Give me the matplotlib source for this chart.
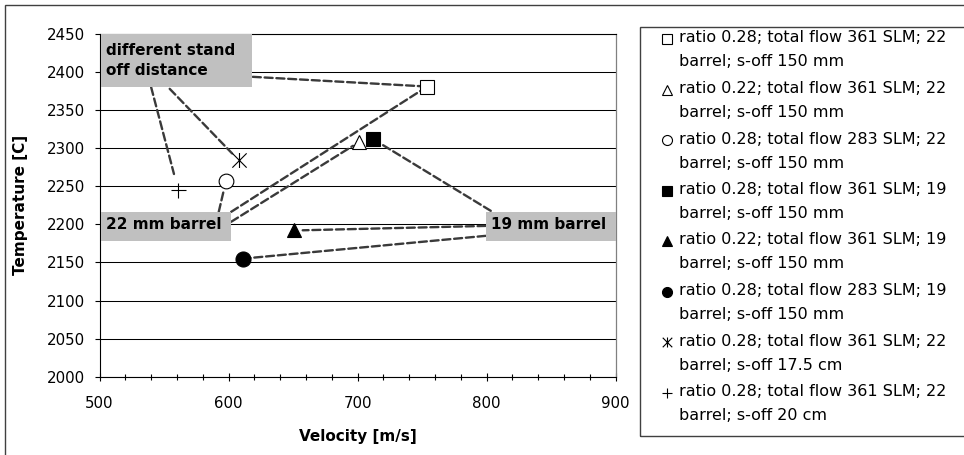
import matplotlib
matplotlib.use("Agg")
import matplotlib.pyplot as plt
from matplotlib.path import Path
from matplotlib.patches import Rectangle
from matplotlib.lines import Line2D
from matplotlib.ticker import MultipleLocator

plt.rcParams["font.family"] = ["DejaVu Sans"]

# ---- data -------------------------------------------------------------
velocity = [754, 701, 598, 712, 651, 611, 608, 561]          # m/s
temperature = [2381, 2308, 2257, 2312, 2192, 2155, 2284, 2245]  # C
series_labels = [
    ("ratio 0.28; total flow 361 SLM; 22", "barrel; s-off 150 mm"),
    ("ratio 0.22; total flow 361 SLM; 22", "barrel; s-off 150 mm"),
    ("ratio 0.28; total flow 283 SLM; 22", "barrel; s-off 150 mm"),
    ("ratio 0.28; total flow 361 SLM; 19", "barrel; s-off 150 mm"),
    ("ratio 0.22; total flow 361 SLM; 19", "barrel; s-off 150 mm"),
    ("ratio 0.28; total flow 283 SLM; 19", "barrel; s-off 150 mm"),
    ("ratio 0.28; total flow 361 SLM; 22", "barrel; s-off 17.5 cm"),
    ("ratio 0.28; total flow 361 SLM; 22", "barrel; s-off 20 cm"),
]
x_ticks = [500, 600, 700, 800, 900]
y_ticks = [2000, 2050, 2100, 2150, 2200, 2250, 2300, 2350, 2400, 2450]
callout_texts = ["different stand\noff distance", "22 mm barrel", "19 mm barrel"]

# ---- marker styles ----------------------------------------------------
asterisk = Path(
    [(-1, -1), (1, 1), (-1, 1), (1, -1), (0, -1.05), (0, 1.05)],
    [Path.MOVETO, Path.LINETO, Path.MOVETO, Path.LINETO, Path.MOVETO, Path.LINETO],
)
styles = [
    dict(marker="s", mfc="white", ms=10.0),
    dict(marker="^", mfc="white", ms=10.0),
    dict(marker="o", mfc="white", ms=10.6),
    dict(marker="s", mfc="black", ms=10.0),
    dict(marker="^", mfc="black", ms=10.6),
    dict(marker="o", mfc="black", ms=10.8),
    dict(marker=asterisk, mfc="none", ms=10.8),
    dict(marker="+", mfc="none", ms=10.8),
]

W, H = 964, 455
fig = plt.figure(figsize=(W / 100, H / 100), dpi=100)
fig.patch.set_facecolor("white")

# outer frame of the chart object
fig.add_artist(Rectangle((5 / W, -0.5), 2.0, 1.5 - 5 / H, transform=fig.transFigure,
                         fill=False, ec="#404040", lw=1.0))

ax = fig.add_axes([99.5 / W, 1 - 376.7 / H, 516.2 / W, 342.7 / H])
ax.set_xlim(500, 900)
ax.set_ylim(2000, 2450)
ax.set_xticks(x_ticks)
ax.xaxis.set_minor_locator(MultipleLocator(20))
ax.set_yticks(y_ticks)
ax.set_axisbelow(True)
ax.yaxis.grid(True, color="black", lw=0.75)
for side in ("left", "bottom", "top"):
    ax.spines[side].set_color("black")
    ax.spines[side].set_linewidth(0.8)
ax.spines["right"].set_color("#808080")
ax.spines["right"].set_linewidth(0.9)

ax.tick_params(axis="x", which="major", direction="inout", length=6, width=0.8,
               labelsize=10.8, pad=11)
ax.tick_params(axis="x", which="minor", direction="inout", length=5, width=0.8)
ax.tick_params(axis="y", direction="out", length=3.6, width=0.8, labelsize=10.8, pad=6.5)

ax.set_xlabel("Velocity [m/s]", fontsize=11, fontweight="bold")
ax.set_ylabel("Temperature [C]", fontsize=11, fontweight="bold")
ax.xaxis.set_label_coords(0.5, -0.152)
ax.yaxis.set_label_coords(-0.139, 0.5)

# ---- points -----------------------------------------------------------
for vx, ty, st in zip(velocity, temperature, styles):
    ax.plot([vx], [ty], linestyle="none", mec="black", mew=0.8, zorder=6,
            clip_on=False, **st)

# ---- callout boxes (axes fraction: x0, y0, w, h, text x, text y) -----
boxes = [
    (0.002, 0.845, 0.293, 0.155, 0.013, 0.922),
    (0.002, 0.396, 0.252, 0.085, 0.013, 0.445),
    (0.748, 0.396, 0.252, 0.085, 0.758, 0.445),
]
for (x0, y0, bw, bh, tx, ty), txt in zip(boxes, callout_texts):
    ax.add_patch(Rectangle((x0, y0), bw, bh, transform=ax.transAxes,
                           fc="#C0C0C0", ec="none", zorder=4, clip_on=False))
    ax.text(tx, ty, txt, transform=ax.transAxes, ha="left", va="center",
            fontsize=11, fontweight="bold", linespacing=1.45, zorder=5)

# ---- dashed leader lines: (anchor x, anchor y in axes fraction, point, shrink)
leaders = [
    (0.297, 0.875, 0, 5),
    (0.100, 0.845, 7, 12),
    (0.136, 0.840, 6, 7),
    (0.231, 0.481, 2, 8),
    (0.255, 0.481, 0, 6),
    (0.255, 0.452, 1, 5),
    (0.758, 0.484, 3, 4),
    (0.748, 0.440, 4, 6),
    (0.748, 0.411, 5, 5),
]
for fx, fy, idx, shrink in leaders:
    ax.annotate("", xy=(velocity[idx], temperature[idx]), xycoords="data",
                xytext=(fx, fy), textcoords="axes fraction",
                arrowprops=dict(arrowstyle="-", color="#3a3a3a", lw=1.7,
                                linestyle=(0, (3.4, 1.6)), shrinkA=0, shrinkB=shrink),
                zorder=3.5)

# ---- legend -----------------------------------------------------------
fig.add_artist(Rectangle((640 / W, 1 - 436 / H), 1.0, (436 - 27) / H,
                         transform=fig.transFigure, fill=False, ec="#404040", lw=1.0))
for k, (st, (l1, l2)) in enumerate(zip(styles, series_labels)):
    y1 = 38 + 50.5 * k
    y2 = y1 + 24
    lst = dict(st)
    lst["ms"] = 7.2
    fig.add_artist(Line2D([667 / W], [1 - (y1 + 1) / H], transform=fig.transFigure,
                          linestyle="none", mec="black", mew=0.8, **lst))
    fig.text(679 / W, 1 - y1 / H, l1, ha="left", va="center", fontsize=11.5)
    fig.text(679 / W, 1 - y2 / H, l2, ha="left", va="center", fontsize=11.5)

fig.savefig("out.png", dpi=100, facecolor="white")
